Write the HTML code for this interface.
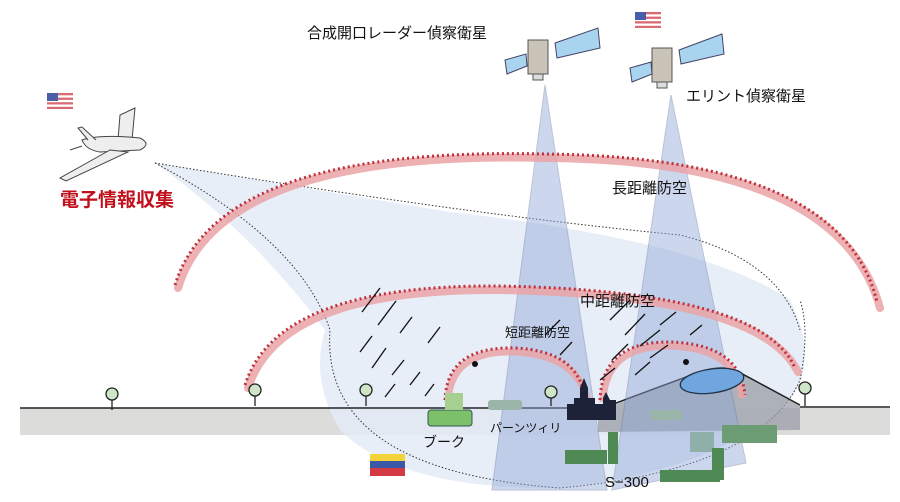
<!DOCTYPE html>
<html><head><meta charset="utf-8"><style>
html,body{margin:0;padding:0;background:#fff;}
svg{display:block;font-family:"Liberation Sans","Noto Sans CJK JP",sans-serif;}
</style></head><body>
<svg width="900" height="502" viewBox="0 0 900 502" xmlns="http://www.w3.org/2000/svg">
<defs>
<g id="usflag"><rect width="26" height="16" fill="#d96b75"/><rect y="2.3" width="26" height="2.3" fill="#fff"/><rect y="6.9" width="26" height="2.3" fill="#fff"/><rect y="11.5" width="26" height="2.3" fill="#fff"/><rect width="11" height="8" fill="#4a5fa8"/></g>
</defs>
<rect width="900" height="502" fill="#fff"/>
<rect x="20" y="408" width="870" height="27" fill="#dcdcda"/>
<path d="M155,163 L450,212 Q700,240 790,300 Q820,360 790,400 Q720,470 560,488 Q400,490 340,430 Q310,380 325,330 Q250,230 155,163 Z" fill="#e3ebf7" opacity="0.85"/>
<path d="M155,163 Q470,215 680,235 Q780,260 800,330" fill="none" stroke="#333" stroke-width="1" stroke-dasharray="1.5,2"/>
<path d="M155,163 Q300,240 330,330 Q320,470 560,488 Q760,470 800,380 Q810,330 800,300" fill="none" stroke="#333" stroke-width="1" stroke-dasharray="1.5,2"/>
<path d="M598,412 Q650,390 700,372 Q720,365 735,370 L800,405 L800,430 L598,432 Z" fill="#9a9ea6" opacity="0.75"/>
<path d="M598,410 Q650,390 700,372 Q720,365 735,370 L800,405" fill="none" stroke="#222" stroke-width="1.5"/>
<path d="M20,408 L600,408 M800,407 L890,407" stroke="#222" stroke-width="1.5"/>
<path d="M545,85 L492,490 L607,490 Z" fill="#8fa6d6" opacity="0.45" stroke="#6a7ba8" stroke-width="1"/>
<path d="M671,95 L612,490 L746,463 Z" fill="#8fa6d6" opacity="0.45" stroke="#6a7ba8" stroke-width="1"/>
<path d="M178,288 Q220,150 545,158 Q840,160 880,308" fill="none" stroke="#eaa3a6" stroke-width="8" stroke-linecap="round" opacity="0.85"/>
<path d="M175,285 Q218,146 545,154 Q842,157 877,302" fill="none" stroke="#c0303a" stroke-width="3" stroke-dasharray="2,3"/>
<path d="M248,388 Q280,288 500,290 Q760,295 798,372" fill="none" stroke="#eaa3a6" stroke-width="8" stroke-linecap="round" opacity="0.85"/>
<path d="M245,385 Q277,284 500,286 Q762,291 795,368" fill="none" stroke="#c0303a" stroke-width="3" stroke-dasharray="2,3"/>
<path d="M448,402 Q450,350 515,352 Q578,355 588,402" fill="none" stroke="#eaa3a6" stroke-width="7" opacity="0.85"/>
<path d="M445,400 Q447,346 515,348 Q580,351 585,400" fill="none" stroke="#c0303a" stroke-width="3" stroke-dasharray="2,3"/>
<path d="M603,402 Q605,345 670,346 Q738,348 742,398" fill="none" stroke="#eaa3a6" stroke-width="7" opacity="0.85"/>
<path d="M600,400 Q602,341 670,342 Q740,344 745,395" fill="none" stroke="#c0303a" stroke-width="3" stroke-dasharray="2,3"/>
<g stroke="#111" stroke-width="1.3">
<path d="M362,312 L380,288 M378,325 L396,301 M400,333 L412,317 M428,343 L440,327 M360,352 L372,336 M372,368 L386,348 M392,375 L404,360 M410,385 L420,372 M425,396 L434,384 M385,397 L395,384"/>
<path d="M610,320 L630,300 M625,335 L645,314 M640,346 L660,330 M612,360 L628,344 M650,358 L668,345 M660,325 L676,312 M600,380 L615,368 M635,375 L650,362 M545,335 L560,320 M560,355 L572,342 M690,335 L702,325"/>
</g>
<circle cx="475" cy="364" r="3" fill="#111"/><circle cx="450" cy="398" r="2.5" fill="#111"/><circle cx="686" cy="362" r="3" fill="#111"/>
<g stroke="#222" stroke-width="1.3" fill="#cfe5c8">
<path d="M112,410 L112,398"/><circle cx="112" cy="394" r="6"/>
<path d="M255,406 L255,394"/><circle cx="255" cy="390" r="6"/>
<path d="M366,406 L366,394"/><circle cx="366" cy="390" r="6"/>
<path d="M551,406 L551,396"/><circle cx="551" cy="392" r="6"/>
<path d="M805,406 L805,394"/><circle cx="805" cy="388" r="6"/>
</g>
<path d="M567,420 L567,404 L574,404 L574,398 L580,398 L580,388 L584,378 L588,388 L588,398 L595,398 L595,404 L603,404 L603,398 L606,392 L610,400 L616,400 L616,420 Z" fill="#1e2238"/>
<rect x="428" y="410" width="44" height="16" rx="3" fill="#7cc06a" stroke="#355" stroke-width="1"/>
<rect x="445" y="393" width="18" height="17" fill="#a5d08f"/>
<rect x="488" y="400" width="34" height="10" rx="3" fill="#9bb5a8"/>
<rect x="650" y="410" width="32" height="10" rx="3" fill="#9bb5a8"/>
<rect x="690" y="432" width="24" height="20" fill="#8fb0a8"/>
<rect x="565" y="450" width="42" height="14" fill="#4f8a55"/>
<rect x="608" y="432" width="10" height="32" fill="#4f8a55"/>
<rect x="660" y="470" width="60" height="12" fill="#4f8a55"/>
<rect x="712" y="448" width="12" height="32" fill="#4f8a55"/>
<rect x="722" y="425" width="55" height="18" fill="#6c9c73"/>
<ellipse cx="712" cy="381" rx="32" ry="12" fill="#6fa6e0" stroke="#234" stroke-width="1.3" transform="rotate(-8 712 381)"/>
<g>
<rect x="528" y="40" width="20" height="34" fill="#c9c3b8" stroke="#555"/>
<rect x="533" y="74" width="10" height="6" fill="#ddd" stroke="#555"/>
<path d="M555,43 L598,28 L600,48 L557,58 Z" fill="#a9d4ef" stroke="#446"/>
<path d="M505,60 L526,54 L527,66 L507,74 Z" fill="#a9d4ef" stroke="#446"/>
<rect x="652" y="48" width="20" height="34" fill="#c9c3b8" stroke="#555"/>
<rect x="657" y="82" width="10" height="6" fill="#ddd" stroke="#555"/>
<path d="M679,50 L722,34 L724,54 L681,64 Z" fill="#a9d4ef" stroke="#446"/>
<path d="M630,68 L651,62 L652,74 L632,82 Z" fill="#a9d4ef" stroke="#446"/>
</g>
<g fill="#eee" stroke="#444" stroke-width="1">
<path d="M120,115 L135,108 L132,140 L118,140 Z"/>
<path d="M82,140 Q100,134 140,138 Q152,144 140,150 L100,152 Q86,150 82,140 Z"/>
<path d="M110,150 L60,178 L66,181 L128,152 Z"/>
<path d="M88,140 L78,128 L82,127 L96,140"/>
<path d="M82,146 L70,150"/>
</g>
<use href="#usflag" x="47" y="93"/>
<use href="#usflag" x="635" y="12"/>
<rect x="370" y="454" width="35" height="7" fill="#f3d23a"/>
<rect x="370" y="461" width="35" height="7" fill="#3a58a8"/>
<rect x="370" y="468" width="35" height="8" fill="#d33a44"/>
<g font-size="15" fill="#111">
<text x="307" y="38">合成開口レーダー偵察衛星</text>
<text x="686" y="101">エリント偵察衛星</text>
<text x="612" y="193">長距離防空</text>
<text x="580" y="306">中距離防空</text>
<text x="505" y="337" font-size="13">短距離防空</text>
<text x="423" y="447" font-size="14">ブーク</text>
<text x="490" y="432" font-size="12">パーンツィリ</text>
<text x="605" y="487" font-size="15">S−300</text>
</g>
<text x="60" y="206" font-size="19" font-weight="bold" fill="#c0101c">電子情報収集</text>
</svg>
</body></html>
